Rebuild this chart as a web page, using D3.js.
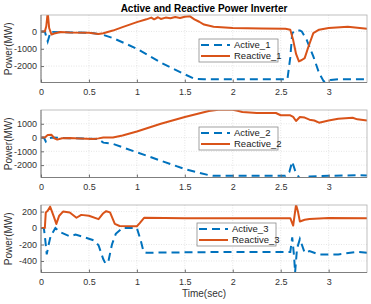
<!DOCTYPE html>
<html>
<head>
<meta charset="utf-8">
<script src="https://cdn.jsdelivr.net/npm/d3@7"></script>
<style>
  body { margin: 0; background: #fff; }
  svg { display: block; font-family: "Liberation Sans", Arial, sans-serif; }
</style>
</head>
<body>
<div id="chart"></div>
<script>
// Panel 1 data (time in sec, power in MW)
const tReactive1 = [0, 0.04, 0.055, 0.07, 0.085, 0.11, 0.15, 0.2, 0.3, 0.5, 0.6, 0.65, 0.75, 0.85, 1.0, 1.1, 1.15, 1.18, 1.22, 1.25, 1.3, 1.35, 1.4, 1.45, 1.5, 1.55, 1.6, 1.65, 1.7, 1.8, 2.0, 2.3, 2.55, 2.6, 2.63, 2.66, 2.69, 2.72, 2.75, 2.79, 2.84, 2.9, 3.0, 3.2, 3.4];
const reactive1 = [0, 0, 300, 1100, 200, -180, -100, -30, -60, -80, -150, -100, 50, 250, 540, 700, 800, 700, 820, 720, 800, 760, 830, 780, 850, 880, 700, 560, 400, 270, 200, 170, 150, 100, -500, -1300, -1730, -1650, -1540, -870, -100, 100, 200, 270, 150];
const tActive1 = [0, 0.04, 0.06, 0.07, 0.1, 0.2, 0.4, 0.55, 0.65, 0.75, 0.9, 1.0, 1.25, 1.5, 1.6, 1.7, 2.0, 2.57, 2.6, 2.62, 2.65, 2.7, 2.72, 2.77, 2.84, 2.9, 2.95, 3.02, 3.1, 3.4];
const active1 = [0, 0, -400, -580, -20, -50, -60, -100, -200, -380, -750, -1000, -1800, -2480, -2730, -2760, -2760, -2760, -1500, -100, 50, 50, 0, -480, -1440, -2400, -2900, -2800, -2760, -2760];

// Panel 2 data
const tReactive2 = [0, 0.04, 0.07, 0.11, 0.14, 0.17, 0.22, 0.3, 0.4, 0.55, 0.6, 0.65, 0.75, 0.85, 1.0, 1.25, 1.5, 1.75, 1.85, 2.0, 2.05, 2.1, 2.25, 2.45, 2.5, 2.6, 2.63, 2.66, 2.7, 2.75, 2.8, 2.85, 2.9, 3.0, 3.1, 3.25, 3.3, 3.4];
const reactive2 = [0, 0, 180, 200, -50, -150, -50, -30, -60, -100, -60, 0, 0, 150, 440, 1000, 1490, 1930, 2020, 2020, 1950, 1850, 1780, 1780, 1620, 1610, 1500, 1200, 1490, 1450, 1300, 1240, 1080, 1240, 1370, 1440, 1320, 1240];
const tActive2 = [0, 0.03, 0.05, 0.08, 0.12, 0.3, 0.5, 0.6, 0.65, 0.75, 1.0, 1.25, 1.5, 1.75, 1.8, 2.55, 2.59, 2.62, 2.65, 2.7, 2.8, 3.0, 3.3, 3.4];
const active2 = [0, 0, -290, -50, 0, -50, -80, -120, -370, -460, -1070, -1680, -2290, -2730, -2780, -2780, -2500, -1750, -2400, -3000, -2830, -2780, -2730, -2760];

// Panel 3 data
const tReactive3 = [0, 0.04, 0.05, 0.07, 0.095, 0.13, 0.16, 0.19, 0.23, 0.3, 0.37, 0.42, 0.5, 0.6, 0.65, 0.68, 0.72, 0.77, 0.82, 1.0, 1.03, 1.075, 1.5, 2.0, 2.6, 2.63, 2.66, 2.68, 2.7, 2.75, 2.8, 3.0, 3.4];
const reactive3 = [0, 0, 190, 210, 260, 150, 50, 150, 200, 190, 125, 160, 150, 108, 180, 205, 190, 50, 25, 22, 60, 125, 120, 120, 120, 30, 283, 200, 80, 100, 110, 122, 120];
const tActive3 = [0, 0.03, 0.045, 0.06, 0.08, 0.1, 0.15, 0.2, 0.3, 0.36, 0.45, 0.55, 0.6, 0.65, 0.67, 0.7, 0.74, 0.78, 0.85, 1.0, 1.04, 1.07, 1.1, 1.5, 2.0, 2.6, 2.62, 2.64, 2.65, 2.67, 2.7, 2.75, 2.8, 2.9, 3.1, 3.3, 3.4];
const active3 = [0, 0, -150, -320, -200, -100, 0, -50, -100, -80, -110, -150, -208, -380, -425, -420, -200, -70, 0, 0, -150, -290, -300, -295, -290, -290, -112, -350, -540, -250, -133, -300, -280, -320, -320, -290, -300];

const xTicks = [0, 0.5, 1, 1.5, 2, 2.5, 3];
const yTicks1 = [-2000, -1000, 0];
const yTicks2 = [-2000, -1000, 0, 1000];
const yTicks3 = [-400, -200, 0, 200];

const blue = '#0072BD';
const orange = '#D95319';

const W = 371, H = 304;
const left = 41, right = 367;

const panels = [
  { top: 15, yDomain: [-2950, 950], yTicks: yTicks1,
    active: [tActive1, active1], reactive: [tReactive1, reactive1],
    names: ['Active_1', 'Reactive_1'], legend: { x: 199, y: 39 } },
  { top: 110, yDomain: [-2900, 2000], yTicks: yTicks2,
    active: [tActive2, active2], reactive: [tReactive2, reactive2],
    names: ['Active_2', 'Reactive_2'], legend: { x: 199, y: 127 } },
  { top: 205, yDomain: [-540, 280], yTicks: yTicks3,
    active: [tActive3, active3], reactive: [tReactive3, reactive3],
    names: ['Active_3', 'Reactive_3'], legend: { x: 197, y: 223 } },
];
const panelH = 67.5;

// plain numbers with a hyphen minus, as MATLAB prints them
const fmt = d => String(d);

const svg = d3.select('#chart').append('svg')
  .attr('width', W).attr('height', H);

const x = d3.scaleLinear().domain([0, 3.4]).range([left, right]);

svg.append('text')
  .attr('x', 204).attr('y', 12)
  .attr('text-anchor', 'middle')
  .attr('font-size', 10).attr('font-weight', 'bold')
  .attr('fill', '#000')
  .text('Active and Reactive Power Inverter');

panels.forEach((p, i) => {
  const y = d3.scaleLinear().domain(p.yDomain).range([p.top + panelH, p.top]);
  const g = svg.append('g');

  g.append('rect')
    .attr('x', left).attr('y', p.top)
    .attr('width', right - left).attr('height', panelH)
    .attr('fill', '#fff');

  // grid
  g.selectAll('.gx').data(xTicks).enter().append('line')
    .attr('x1', d => x(d)).attr('x2', d => x(d))
    .attr('y1', p.top).attr('y2', p.top + panelH)
    .attr('stroke', '#d4d4d4').attr('stroke-width', 0.6)
    .attr('stroke-dasharray', '1,1.5');
  g.selectAll('.gy').data(p.yTicks).enter().append('line')
    .attr('x1', left).attr('x2', right)
    .attr('y1', d => y(d)).attr('y2', d => y(d))
    .attr('stroke', '#d4d4d4').attr('stroke-width', 0.6)
    .attr('stroke-dasharray', '1,1.5');

  const clipId = 'clip' + i;
  svg.append('clipPath').attr('id', clipId).append('rect')
    .attr('x', left).attr('y', p.top)
    .attr('width', right - left).attr('height', panelH);

  const line = d3.line()
    .x(d => x(d[0])).y(d => y(d[1]));

  const activePts = p.active[0].map((t, k) => [t, p.active[1][k]]);
  const reactivePts = p.reactive[0].map((t, k) => [t, p.reactive[1][k]]);

  g.append('path')
    .datum(activePts)
    .attr('clip-path', 'url(#' + clipId + ')')
    .attr('fill', 'none').attr('stroke', blue)
    .attr('stroke-width', 2).attr('stroke-dasharray', '8,5')
    .attr('d', line);
  g.append('path')
    .datum(reactivePts)
    .attr('clip-path', 'url(#' + clipId + ')')
    .attr('fill', 'none').attr('stroke', orange)
    .attr('stroke-width', 2).attr('stroke-linejoin', 'round')
    .attr('d', line);

  // axes box
  g.append('rect')
    .attr('x', left).attr('y', p.top)
    .attr('width', right - left).attr('height', panelH)
    .attr('fill', 'none').attr('stroke', '#b0b0b0').attr('stroke-width', 0.8);
  g.append('line')
    .attr('x1', left).attr('x2', left)
    .attr('y1', p.top).attr('y2', p.top + panelH)
    .attr('stroke', '#6e6e6e').attr('stroke-width', 0.8);
  g.append('line')
    .attr('x1', left).attr('x2', right)
    .attr('y1', p.top + panelH).attr('y2', p.top + panelH)
    .attr('stroke', '#6e6e6e').attr('stroke-width', 0.8);

  // x axis
  const xAxis = d3.axisBottom(x).tickValues(xTicks).tickSize(-3).tickPadding(6)
    .tickFormat(fmt);
  const xa = g.append('g')
    .attr('transform', 'translate(0,' + (p.top + panelH) + ')')
    .call(xAxis);
  xa.select('.domain').remove();
  xa.selectAll('line').attr('stroke', '#6e6e6e');
  xa.selectAll('text').attr('font-size', 9).attr('fill', '#333')
    .attr('font-family', '"Liberation Sans", Arial, sans-serif');

  // y axis
  const yAxis = d3.axisLeft(y).tickValues(p.yTicks).tickSize(-3).tickPadding(4)
    .tickFormat(fmt);
  const ya = g.append('g')
    .attr('transform', 'translate(' + left + ',0)')
    .call(yAxis);
  ya.select('.domain').remove();
  ya.selectAll('line').attr('stroke', '#6e6e6e');
  ya.selectAll('text').attr('font-size', 9).attr('fill', '#333')
    .attr('font-family', '"Liberation Sans", Arial, sans-serif');

  g.append('text')
    .attr('transform', 'translate(12,' + (p.top + panelH / 2) + ') rotate(-90)')
    .attr('text-anchor', 'middle')
    .attr('font-size', 10).attr('fill', '#333')
    .text('Power(MW)');

  // legend
  const lg = g.append('g').attr('transform', 'translate(' + p.legend.x + ',' + p.legend.y + ')');
  lg.append('rect')
    .attr('width', 79).attr('height', 23)
    .attr('fill', '#fff').attr('stroke', '#8a8a8a').attr('stroke-width', 0.8);
  const items = [
    { name: p.names[0], color: blue, dash: '8,5' },
    { name: p.names[1], color: orange, dash: null },
  ];
  items.forEach((it, k) => {
    const yy = 6 + k * 11;
    lg.append('line')
      .attr('x1', 2).attr('x2', 31).attr('y1', yy).attr('y2', yy)
      .attr('stroke', it.color).attr('stroke-width', 2)
      .attr('stroke-dasharray', it.dash);
    lg.append('text')
      .attr('x', 35).attr('y', yy + 3.3)
      .attr('font-size', 9.5).attr('fill', '#222')
      .text(it.name);
  });
});

svg.append('text')
  .attr('x', 204).attr('y', 297)
  .attr('text-anchor', 'middle')
  .attr('font-size', 10).attr('fill', '#333')
  .text('Time(sec)');
</script>
</body>
</html>
